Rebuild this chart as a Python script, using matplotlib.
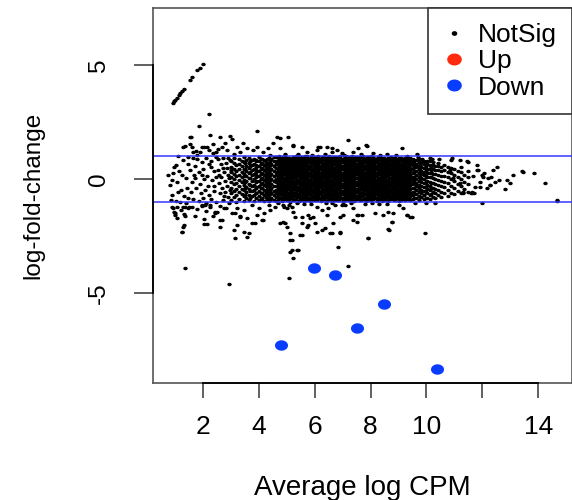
import numpy as np
import matplotlib
matplotlib.use("Agg")
import matplotlib.pyplot as plt
from matplotlib.path import Path
from matplotlib.lines import Line2D

# ---------------- data ----------------
down_x = [5.99, 6.73, 8.49, 7.50, 4.79, 10.37]
down_y = [-3.90, -4.19, -5.46, -6.53, -7.26, -8.32]
up_x = []
up_y = []

threshold_lines = [1.0, -1.0]
x_ticks = [2, 4, 6, 8, 10, 12, 14]
x_tick_labels = ["2", "4", "6", "8", "10", "", "14"]
y_ticks = [-5, 0, 5]
y_tick_labels = ["-5", "0", "5"]
legend_labels = ["NotSig", "Up", "Down"]

# diagonal streak of points in the upper left
diag_pts = [(0.92, 3.32), (0.97, 3.42), (1.01, 3.49), (1.07, 3.58), (1.13, 3.68),
            (1.19, 3.79), (1.25, 3.87), (1.31, 3.95), (1.52, 4.37), (1.61, 4.49),
            (1.79, 4.78), (1.88, 4.88), (2.00, 5.07)]

# scattered points above the +1 line
upper_pts = [(2.23, 2.85), (1.87, 2.34), (3.95, 2.12), (1.57, 1.87), (1.36, 1.47),
             (2.25, 1.94), (2.61, 1.87), (2.97, 1.90), (3.03, 1.75), (2.13, 1.43),
             (1.95, 1.43), (2.37, 1.55), (2.67, 1.43), (2.87, 1.28), (3.21, 1.43),
             (3.44, 1.58), (3.56, 1.36), (4.64, 1.84), (5.05, 1.84), (3.92, 1.43),
             (4.34, 1.36), (4.52, 1.58), (5.23, 1.47), (5.53, 1.43), (6.19, 1.43),
             (6.43, 1.43), (7.20, 1.72), (7.56, 1.36), (7.86, 1.46), (9.11, 1.36),
             (6.96, 1.14), (1.65, 1.21), (1.47, 0.99), (1.30, 1.43), (1.53, 1.87),
             (1.12, 1.00), (2.79, 1.58), (2.55, 1.33), (3.32, 1.21), (3.80, 1.28),
             (4.16, 1.21), (4.76, 1.36), (5.71, 1.21), (6.07, 1.28), (6.61, 1.21),
             (6.79, 1.28), (7.38, 1.21), (8.10, 1.14), (8.58, 1.11), (9.65, 1.11),
             (10.13, 0.92), (10.90, 0.92), (11.20, 0.85), (11.50, 0.77), (4.75, 1.80),
             (5.23, 1.50), (6.13, 1.43), (6.60, 1.36), (7.84, 1.50), (9.84, 0.90),
             (10.20, 0.88), (10.88, 0.86), (11.45, 0.80), (3.10, 1.12), (4.40, 1.08),
             (5.40, 1.10), (8.90, 1.08), (2.45, 1.18), (1.80, 1.05), (5.90, 1.07),
             (6.35, 1.12), (7.05, 1.05), (7.65, 1.10), (8.35, 1.06), (9.30, 1.03),
             (4.95, 1.12), (5.65, 1.04), (8.00, 1.03), (9.70, 0.97), (10.45, 0.90)]

# scattered points below the -1 line
lower_pts = [(0.95, -1.42), (1.01, -1.56), (1.32, -1.52), (1.36, -1.61), (1.31, -2.00),
             (1.25, -2.29), (1.37, -3.90), (2.92, -4.59), (2.02, -1.94), (2.14, -1.97),
             (2.62, -2.10), (2.44, -1.49), (2.67, -1.78), (0.89, -1.20), (1.07, -1.20),
             (1.37, -1.20), (1.49, -1.20), (1.96, -1.13), (2.08, -1.13), (2.26, -1.13),
             (2.50, -1.42), (2.74, -1.27), (3.16, -1.49), (3.34, -1.61), (3.22, -2.00),
             (3.10, -2.22), (3.46, -2.29), (3.64, -2.37), (3.58, -2.51), (3.16, -2.58),
             (3.75, -1.93), (3.87, -1.93), (4.11, -1.78), (4.17, -1.49), (4.41, -1.34),
             (4.77, -1.93), (3.22, -1.27), (3.46, -1.34), (3.75, -1.13), (3.99, -1.27),
             (4.35, -1.13), (4.59, -1.20), (4.89, -1.20), (5.07, -1.13), (5.13, -2.66),
             (5.13, -3.17), (2.61, -1.78), (3.03, -1.49), (3.32, -1.64), (3.56, -1.71),
             (3.92, -1.56), (4.16, -1.78),
             (4.88, -1.13), (5.00, -1.27), (5.18, -1.20), (5.23, -1.42), (5.29, -1.64),
             (4.94, -1.93), (5.00, -2.08), (5.53, -1.64), (5.77, -1.56), (5.83, -1.71),
             (5.53, -1.93), (5.77, -2.00), (6.01, -1.93), (6.07, -1.20), (6.25, -1.34),
             (6.49, -1.27), (6.73, -1.13), (6.97, -1.13), (7.08, -1.13), (7.02, -1.56),
             (6.91, -1.64), (6.67, -1.93), (7.38, -1.27), (7.50, -1.56), (7.68, -1.56),
             (7.50, -1.86), (8.46, -1.56), (8.63, -1.42), (8.76, -1.86), (9.17, -1.27),
             (9.29, -1.56), (9.41, -1.64), (6.37, -2.15), (6.07, -2.29), (6.61, -2.37),
             (6.91, -2.29), (5.18, -2.66), (5.53, -2.44), (5.18, -3.10), (5.41, -3.10),
             (5.23, -3.46), (6.84, -2.98), (7.20, -3.78), (7.92, -2.56), (8.63, -2.19),
             (5.09, -4.34), (9.95, -2.34), (7.38, -1.78), (7.56, -1.56), (8.16, -1.49),
             (8.75, -1.85), (8.81, -1.49), (9.29, -1.56), (7.92, -2.58), (8.64, -2.22),
             (10.00, -1.06), (10.30, -1.06), (11.98, -1.06), (9.47, -1.64), (5.95, -1.64),
             (6.43, -1.56), (6.90, -2.36), (6.55, -2.36), (6.25, -2.22), (5.71, -2.07),
             (5.47, -2.44), (5.35, -3.09), (5.11, -2.37), (4.88, -1.85), (7.02, -1.07),
             (7.80, -1.10), (8.30, -1.08), (9.00, -1.12), (5.60, -1.10), (6.40, -1.05),
             (1.20, -1.35), (1.70, -1.60), (2.05, -1.75), (2.35, -1.62), (2.62, -1.15),
             (2.82, -1.25), (2.93, -1.02), (5.35, -1.05), (5.85, -1.08), (6.60, -1.04),
             (7.30, -1.03), (8.05, -1.05), (8.60, -1.10), (9.60, -1.02), (4.70, -1.05)]

# low-density points on the left of the cloud
left_pts = [(0.76, 0.19), (0.82, -0.25), (0.94, 0.26), (1.06, -0.10), (0.88, -0.69),
            (0.94, -1.27), (1.00, -1.49), (1.06, -1.71), (1.30, -1.20), (1.48, -1.27),
            (1.27, -2.07), (1.24, -2.29), (0.98, 0.52), (1.15, 0.35), (1.22, -0.45),
            (1.40, 0.05), (1.33, -0.72), (1.02, -0.95), (1.18, -0.98), (0.90, -0.05),
            (1.45, 0.68), (1.28, 0.85), (1.10, -0.55), (1.44, -0.40), (1.38, -1.05),
            (0.85, -0.92), (1.25, 0.20), (1.05, 0.62), (1.48, -0.80),
            (1.52, 1.55), (1.62, 1.40), (1.75, 1.25), (1.90, 1.20), (2.05, 1.42),
            (2.20, 1.30), (2.35, 1.15), (1.65, 0.95), (1.80, 0.88), (1.95, 0.75),
            (2.10, 0.92), (2.30, 0.80), (2.45, 0.98), (1.55, 0.40), (1.70, 0.60),
            (1.85, 0.30), (2.00, 0.45), (2.15, 0.15), (2.28, 0.55), (2.40, 0.35),
            (1.60, -0.10), (1.72, 0.05), (1.88, -0.20), (2.02, 0.02), (2.18, -0.30),
            (2.33, -0.05), (2.48, 0.10), (1.58, -0.55), (1.76, -0.40), (1.92, -0.62),
            (2.08, -0.48), (2.22, -0.70), (2.38, -0.52), (1.66, -0.85), (1.84, -0.95),
            (2.00, -0.80), (2.12, -1.02), (2.30, -0.88), (2.45, -0.98), (1.62, -1.22),
            (1.78, -1.30), (1.96, -1.15), (2.10, -1.38), (2.26, -1.20), (2.42, -1.45),
            (1.95, 0.20), (2.40, -0.28), (1.68, 0.20), (2.22, 0.68),
            (2.52, 0.88), (2.55, 0.42), (2.58, -0.15), (2.60, -0.62), (2.63, 0.65),
            (2.66, 0.12), (2.68, -0.38), (2.71, -0.90), (2.73, 0.95), (2.76, 0.30),
            (2.78, -0.08), (2.80, -0.55), (2.83, 0.72), (2.85, 0.50), (2.87, -0.28),
            (2.89, -0.78), (2.91, 0.20), (2.95, 0.85), (2.97, -0.45), (2.99, 0.40),
            (2.70, 0.48), (2.57, 0.20), (2.94, 0.05), (2.75, -0.72), (2.88, 0.92)]

# sparse points on the right of the cloud
right_pts = [(11.68, 0.15), (11.75, -0.32), (11.85, 0.42), (11.92, -0.10), (12.05, 0.28),
             (12.15, -0.40), (12.30, 0.10), (11.80, 0.62), (12.45, -0.12), (11.70, -0.62),
             (12.51, 0.55), (12.39, 0.41), (13.47, 0.34), (13.41, 0.38), (13.83, 0.26),
             (14.24, -0.18), (14.66, -0.91), (12.87, -0.03), (12.99, -0.15), (12.81, -0.42),
             (11.62, -0.61), (12.04, 0.12), (12.21, 0.04), (12.27, -0.25), (11.80, 0.41),
             (11.98, 0.19), (12.28, -0.25), (11.92, -0.32), (11.62, -0.54), (11.32, -0.54),
             (11.20, -0.18), (10.96, 0.04), (10.84, 0.41), (11.32, -0.61), (11.61, -0.61),
             (14.66, -0.94), (12.60, -0.05), (13.10, 0.20)]

# dense core, one list of y values per x column
core_col_x = [3.02, 3.11, 3.19, 3.30, 3.38, 3.47, 3.55, 3.66, 3.74, 3.83, 3.91, 4.02,
              4.10, 4.19, 4.28, 4.37, 4.45, 4.53,
              4.62, 4.72, 4.82, 4.92, 5.02, 5.12, 5.22, 5.32, 5.42, 5.52, 5.62, 5.72,
              5.82, 5.92, 6.02, 6.12, 6.22, 6.32, 6.42, 6.52, 6.62, 6.72, 6.82, 6.92,
              7.02, 7.12, 7.22, 7.32, 7.42, 7.52, 7.62, 7.72, 7.82, 7.92, 8.02, 8.12,
              8.22, 8.32, 8.42, 8.52, 8.62, 8.72, 8.82, 8.92, 9.02, 9.12, 9.22, 9.32,
              9.42,
              9.52, 9.62, 9.72, 9.82, 9.92, 10.02, 10.12, 10.22, 10.32, 10.42, 10.52,
              10.64, 10.76, 10.88, 11.00, 11.12, 11.24, 11.36, 11.48]
core_col_y = [
    [-0.92, -0.61, -0.38, -0.12, 0.08, 0.31, 0.55, 0.82],
    [-0.78, -0.50, -0.22, 0.02, 0.24, 0.47, 0.71, 0.95],
    [-0.98, -0.70, -0.41, -0.18, 0.15, 0.38, 0.62],
    [-0.85, -0.57, -0.30, -0.05, 0.19, 0.44, 0.68, 0.90],
    [-0.66, -0.44, -0.14, 0.11, 0.33, 0.59, 0.80],
    [-0.94, -0.72, -0.48, -0.25, -0.02, 0.22, 0.46, 0.74, 0.97],
    [-0.81, -0.55, -0.33, -0.09, 0.14, 0.37, 0.58, 0.85],
    [-0.90, -0.68, -0.42, -0.20, 0.04, 0.27, 0.50, 0.72, 0.92],
    [-0.75, -0.52, -0.28, -0.06, 0.18, 0.41, 0.64, 0.86],
    [-0.96, -0.70, -0.46, -0.23, 0.00, 0.23, 0.47, 0.69, 0.90],
    [-0.83, -0.60, -0.37, -0.13, 0.10, 0.33, 0.55, 0.79],
    [-0.92, -0.74, -0.52, -0.30, -0.09, 0.13, 0.35, 0.57, 0.78, 0.96],
    [-0.80, -0.58, -0.38, -0.16, 0.05, 0.26, 0.48, 0.70, 0.88],
    [-0.93, -0.70, -0.47, -0.25, -0.04, 0.18, 0.40, 0.61, 0.83],
    [-0.86, -0.64, -0.42, -0.20, 0.00, 0.21, 0.43, 0.66, 0.87],
    [-0.95, -0.76, -0.55, -0.33, -0.12, 0.09, 0.30, 0.52, 0.73, 0.93],
    [-0.84, -0.62, -0.40, -0.19, 0.03, 0.24, 0.45, 0.67, 0.88],
    [-0.91, -0.71, -0.50, -0.28, -0.07, 0.15, 0.36, 0.58, 0.79, 0.97],
    [-0.93, -0.76, -0.60, -0.45, -0.28, -0.13, 0.03, 0.18, 0.34, 0.49, 0.65, 0.80, 0.97],
    [-0.84, -0.69, -0.52, -0.36, -0.21, -0.05, 0.10, 0.26, 0.42, 0.57, 0.72, 0.88, 1.04],
    [-0.97, -0.80, -0.63, -0.47, -0.31, -0.16, 0.00, 0.15, 0.31, 0.47, 0.62, 0.78, 0.93],
    [-0.87, -0.71, -0.55, -0.39, -0.24, -0.08, 0.07, 0.23, 0.39, 0.54, 0.70, 0.85, 1.01],
    [-0.92, -0.77, -0.61, -0.44, -0.29, -0.13, 0.02, 0.18, 0.33, 0.49, 0.64, 0.80, 0.95],
    [-0.99, -0.83, -0.68, -0.52, -0.37, -0.21, -0.06, 0.10, 0.25, 0.41, 0.56, 0.72, 0.87],
    [-0.90, -0.75, -0.59, -0.43, -0.28, -0.12, 0.04, 0.19, 0.35, 0.50, 0.66, 0.81, 0.98],
    [-0.85, -0.69, -0.54, -0.38, -0.22, -0.07, 0.09, 0.24, 0.40, 0.55, 0.71, 0.86, 1.03],
    [-0.95, -0.79, -0.63, -0.48, -0.32, -0.16, -0.01, 0.15, 0.30, 0.46, 0.61, 0.77, 0.92],
    [-0.88, -0.72, -0.56, -0.41, -0.25, -0.10, 0.06, 0.21, 0.37, 0.52, 0.68, 0.83, 0.99],
    [-0.93, -0.77, -0.61, -0.46, -0.30, -0.14, 0.01, 0.17, 0.32, 0.48, 0.63, 0.79, 0.95],
    [-0.86, -0.70, -0.54, -0.39, -0.23, -0.08, 0.08, 0.23, 0.39, 0.54, 0.70, 0.85, 1.02],
    [-0.96, -0.80, -0.64, -0.49, -0.33, -0.17, -0.02, 0.14, 0.29, 0.45, 0.60, 0.76, 0.91],
    [-0.89, -0.73, -0.57, -0.42, -0.26, -0.11, 0.05, 0.20, 0.36, 0.51, 0.67, 0.82, 0.98],
    [-0.92, -0.76, -0.60, -0.45, -0.29, -0.13, 0.02, 0.18, 0.33, 0.49, 0.64, 0.80, 0.96],
    [-0.84, -0.68, -0.53, -0.37, -0.21, -0.06, 0.10, 0.25, 0.41, 0.56, 0.72, 0.87, 1.03],
    [-0.97, -0.81, -0.65, -0.50, -0.34, -0.18, -0.03, 0.13, 0.28, 0.44, 0.59, 0.75, 0.90],
    [-0.88, -0.72, -0.57, -0.41, -0.25, -0.10, 0.06, 0.21, 0.37, 0.52, 0.68, 0.83, 0.99],
    [-0.93, -0.77, -0.62, -0.46, -0.30, -0.15, 0.01, 0.16, 0.32, 0.47, 0.63, 0.78, 0.94],
    [-0.86, -0.70, -0.55, -0.39, -0.23, -0.08, 0.08, 0.23, 0.39, 0.54, 0.70, 0.85, 1.01],
    [-0.95, -0.79, -0.63, -0.48, -0.32, -0.16, -0.01, 0.15, 0.30, 0.46, 0.61, 0.77, 0.93],
    [-0.89, -0.73, -0.58, -0.42, -0.26, -0.11, 0.05, 0.20, 0.36, 0.51, 0.67, 0.82, 0.97],
    [-0.91, -0.75, -0.60, -0.44, -0.28, -0.13, 0.03, 0.18, 0.34, 0.49, 0.65, 0.80, 0.96],
    [-0.84, -0.68, -0.53, -0.37, -0.21, -0.06, 0.10, 0.25, 0.41, 0.56, 0.72, 0.87, 1.02],
    [-0.97, -0.81, -0.66, -0.50, -0.34, -0.19, -0.03, 0.12, 0.28, 0.43, 0.59, 0.74, 0.90],
    [-0.87, -0.71, -0.56, -0.40, -0.24, -0.09, 0.07, 0.22, 0.38, 0.53, 0.69, 0.84, 1.00],
    [-0.92, -0.76, -0.61, -0.45, -0.29, -0.14, 0.02, 0.17, 0.33, 0.48, 0.64, 0.79, 0.95],
    [-0.85, -0.69, -0.54, -0.38, -0.22, -0.07, 0.09, 0.24, 0.40, 0.55, 0.71, 0.86, 1.02],
    [-0.94, -0.78, -0.63, -0.47, -0.31, -0.16, 0.00, 0.15, 0.31, 0.46, 0.62, 0.77, 0.92],
    [-0.88, -0.72, -0.57, -0.41, -0.25, -0.10, 0.06, 0.21, 0.37, 0.52, 0.68, 0.83, 0.98],
    [-0.91, -0.75, -0.59, -0.44, -0.28, -0.12, 0.03, 0.19, 0.34, 0.50, 0.65, 0.81, 0.97],
    [-0.86, -0.70, -0.55, -0.39, -0.23, -0.08, 0.08, 0.23, 0.39, 0.54, 0.70, 0.85, 1.00],
    [-0.95, -0.80, -0.64, -0.48, -0.33, -0.17, -0.02, 0.14, 0.29, 0.45, 0.60, 0.76, 0.91],
    [-0.89, -0.73, -0.58, -0.42, -0.26, -0.11, 0.05, 0.20, 0.36, 0.51, 0.67, 0.82, 0.96],
    [-0.92, -0.77, -0.61, -0.45, -0.30, -0.14, 0.01, 0.17, 0.32, 0.48, 0.63, 0.79, 0.94],
    [-0.84, -0.68, -0.53, -0.37, -0.21, -0.06, 0.10, 0.25, 0.41, 0.56, 0.72, 0.87],
    [-0.96, -0.80, -0.65, -0.49, -0.33, -0.18, -0.02, 0.13, 0.29, 0.44, 0.60, 0.75, 0.91],
    [-0.87, -0.71, -0.56, -0.40, -0.24, -0.09, 0.07, 0.22, 0.38, 0.53, 0.69, 0.84, 0.98],
    [-0.93, -0.77, -0.62, -0.46, -0.30, -0.15, 0.01, 0.16, 0.32, 0.47, 0.63, 0.78, 0.93],
    [-0.85, -0.70, -0.54, -0.38, -0.23, -0.07, 0.08, 0.24, 0.39, 0.55, 0.70, 0.86],
    [-0.95, -0.79, -0.63, -0.48, -0.32, -0.16, -0.01, 0.15, 0.30, 0.46, 0.61, 0.77, 0.92],
    [-0.88, -0.72, -0.57, -0.41, -0.25, -0.10, 0.06, 0.21, 0.37, 0.52, 0.68, 0.83, 0.97],
    [-0.91, -0.76, -0.60, -0.44, -0.29, -0.13, 0.02, 0.18, 0.33, 0.49, 0.64, 0.80, 0.94],
    [-0.84, -0.69, -0.53, -0.37, -0.22, -0.06, 0.09, 0.25, 0.40, 0.56, 0.71, 0.86],
    [-0.94, -0.78, -0.62, -0.47, -0.31, -0.15, 0.00, 0.16, 0.31, 0.47, 0.62, 0.78, 0.92],
    [-0.87, -0.71, -0.56, -0.40, -0.24, -0.09, 0.07, 0.22, 0.38, 0.53, 0.69, 0.84],
    [-0.92, -0.76, -0.61, -0.45, -0.29, -0.14, 0.02, 0.17, 0.33, 0.48, 0.64, 0.79, 0.93],
    [-0.85, -0.70, -0.54, -0.38, -0.23, -0.07, 0.08, 0.24, 0.39, 0.55, 0.70, 0.86],
    [-0.90, -0.74, -0.59, -0.43, -0.27, -0.12, 0.04, 0.19, 0.35, 0.50, 0.66, 0.81, 0.95],
    [-0.88, -0.71, -0.55, -0.38, -0.22, -0.05, 0.11, 0.28, 0.44, 0.61, 0.77, 0.90],
    [-0.82, -0.65, -0.48, -0.31, -0.15, 0.02, 0.19, 0.35, 0.52, 0.68, 0.84],
    [-0.91, -0.74, -0.57, -0.40, -0.24, -0.07, 0.10, 0.26, 0.43, 0.60, 0.76, 0.88],
    [-0.79, -0.62, -0.45, -0.28, -0.12, 0.05, 0.22, 0.38, 0.55, 0.71, 0.86],
    [-0.87, -0.70, -0.52, -0.35, -0.18, 0.00, 0.17, 0.34, 0.51, 0.68, 0.82],
    [-0.80, -0.62, -0.43, -0.25, -0.07, 0.11, 0.29, 0.47, 0.65, 0.80],
    [-0.86, -0.67, -0.48, -0.29, -0.10, 0.09, 0.27, 0.46, 0.64, 0.79],
    [-0.76, -0.56, -0.36, -0.16, 0.04, 0.24, 0.44, 0.62, 0.75],
    [-0.83, -0.62, -0.41, -0.20, 0.01, 0.22, 0.42, 0.60],
    [-0.70, -0.48, -0.26, -0.04, 0.18, 0.39, 0.58, 0.72],
    [-0.78, -0.55, -0.31, -0.08, 0.15, 0.37, 0.55],
    [-0.62, -0.35, -0.10, 0.14, 0.40, 0.62],
    [-0.72, -0.45, -0.18, 0.08, 0.33, 0.55],
    [-0.58, -0.28, 0.00, 0.27, 0.50],
    [-0.66, -0.38, -0.08, 0.20, 0.44],
    [-0.50, -0.20, 0.10, 0.36],
    [-0.60, -0.30, 0.02, 0.30, 0.52],
    [-0.44, -0.12, 0.20],
    [-0.55, -0.22, 0.08, 0.38],
]

# the densest part of the cloud holds further points between the columns above
dense_col_x = [3.52, 3.70, 3.88, 4.06, 4.24, 4.41,
               4.67, 4.77, 4.87, 4.97, 5.07, 5.17, 5.27, 5.37, 5.47, 5.57, 5.67, 5.77,
               5.87, 5.97, 6.07, 6.17, 6.27, 6.37, 6.47, 6.57, 6.67, 6.77, 6.87, 6.97,
               7.07, 7.17, 7.27, 7.37, 7.47, 7.57, 7.67, 7.77, 7.87, 7.97, 8.07, 8.17,
               8.27, 8.37, 8.47, 8.57, 8.67, 8.77, 8.87, 8.97, 9.07, 9.17, 9.27, 9.37,
               9.57, 9.77, 9.97, 10.17]
dense_col_y = [
    [-0.70, -0.40, -0.12, 0.16, 0.44, 0.70],
    [-0.82, -0.50, -0.24, 0.04, 0.30, 0.58, 0.80],
    [-0.60, -0.34, -0.08, 0.17, 0.40, 0.64, 0.84],
    [-0.86, -0.62, -0.40, -0.19, 0.02, 0.24, 0.46, 0.68, 0.90],
    [-0.76, -0.54, -0.30, -0.10, 0.11, 0.32, 0.54, 0.76],
    [-0.90, -0.66, -0.45, -0.24, -0.03, 0.19, 0.40, 0.62, 0.82],
    [-0.89, -0.73, -0.58, -0.42, -0.26, -0.11, 0.05, 0.20, 0.36, 0.51, 0.67, 0.82, 0.96],
    [-0.81, -0.65, -0.50, -0.34, -0.18, -0.03, 0.13, 0.28, 0.44, 0.59, 0.75, 0.90],
    [-0.90, -0.74, -0.57, -0.41, -0.27, -0.10, 0.05, 0.21, 0.36, 0.52, 0.67, 0.83, 0.97],
    [-0.80, -0.66, -0.49, -0.33, -0.19, -0.02, 0.12, 0.29, 0.43, 0.60, 0.74, 0.91],
    [-0.88, -0.73, -0.59, -0.41, -0.25, -0.12, 0.05, 0.19, 0.36, 0.50, 0.68, 0.81, 0.95],
    [-0.82, -0.64, -0.51, -0.35, -0.17, -0.04, 0.14, 0.27, 0.45, 0.58, 0.76, 0.89],
    [-0.90, -0.72, -0.58, -0.43, -0.26, -0.10, 0.04, 0.21, 0.35, 0.52, 0.66, 0.83, 0.98],
    [-0.79, -0.66, -0.49, -0.33, -0.18, -0.03, 0.13, 0.28, 0.44, 0.59, 0.75, 0.91],
    [-0.89, -0.74, -0.57, -0.42, -0.27, -0.11, 0.06, 0.20, 0.37, 0.51, 0.67, 0.82, 0.96],
    [-0.81, -0.65, -0.51, -0.34, -0.19, -0.02, 0.12, 0.29, 0.43, 0.60, 0.74, 0.90],
    [-0.90, -0.73, -0.58, -0.41, -0.26, -0.10, 0.05, 0.21, 0.36, 0.52, 0.68, 0.82, 0.97],
    [-0.80, -0.64, -0.50, -0.35, -0.18, -0.04, 0.13, 0.27, 0.44, 0.58, 0.75, 0.91],
    [-0.88, -0.74, -0.57, -0.42, -0.27, -0.11, 0.04, 0.20, 0.35, 0.51, 0.66, 0.83, 0.97],
    [-0.82, -0.66, -0.49, -0.33, -0.17, -0.03, 0.14, 0.28, 0.45, 0.59, 0.76, 0.89],
    [-0.89, -0.72, -0.58, -0.43, -0.26, -0.10, 0.06, 0.21, 0.37, 0.52, 0.67, 0.82, 0.96],
    [-0.81, -0.65, -0.50, -0.34, -0.19, -0.02, 0.12, 0.29, 0.43, 0.60, 0.74, 0.90],
    [-0.90, -0.73, -0.57, -0.41, -0.27, -0.11, 0.05, 0.20, 0.36, 0.51, 0.68, 0.83, 0.98],
    [-0.79, -0.65, -0.51, -0.35, -0.18, -0.04, 0.13, 0.28, 0.44, 0.58, 0.75, 0.91],
    [-0.89, -0.74, -0.58, -0.42, -0.26, -0.10, 0.04, 0.21, 0.35, 0.52, 0.66, 0.82, 0.97],
    [-0.81, -0.64, -0.49, -0.33, -0.19, -0.03, 0.14, 0.27, 0.45, 0.59, 0.76, 0.90],
    [-0.88, -0.73, -0.57, -0.43, -0.27, -0.11, 0.05, 0.21, 0.36, 0.51, 0.67, 0.83, 0.96],
    [-0.82, -0.66, -0.50, -0.34, -0.17, -0.02, 0.12, 0.28, 0.43, 0.60, 0.74, 0.89],
    [-0.90, -0.72, -0.58, -0.41, -0.26, -0.10, 0.06, 0.20, 0.37, 0.52, 0.68, 0.82, 0.97],
    [-0.80, -0.65, -0.51, -0.35, -0.19, -0.04, 0.13, 0.29, 0.44, 0.58, 0.75, 0.91],
    [-0.89, -0.74, -0.57, -0.42, -0.27, -0.11, 0.04, 0.20, 0.35, 0.51, 0.66, 0.83, 0.96],
    [-0.81, -0.64, -0.49, -0.33, -0.18, -0.02, 0.14, 0.27, 0.43, 0.59, 0.76, 0.90],
    [-0.90, -0.73, -0.58, -0.43, -0.26, -0.10, 0.05, 0.21, 0.36, 0.52, 0.67, 0.82, 0.98],
    [-0.79, -0.66, -0.50, -0.34, -0.19, -0.03, 0.12, 0.28, 0.45, 0.60, 0.74, 0.91],
    [-0.88, -0.72, -0.57, -0.41, -0.27, -0.11, 0.06, 0.21, 0.37, 0.51, 0.68, 0.83, 0.96],
    [-0.82, -0.65, -0.51, -0.35, -0.17, -0.04, 0.13, 0.29, 0.43, 0.58, 0.75, 0.89],
    [-0.89, -0.74, -0.58, -0.42, -0.26, -0.10, 0.05, 0.20, 0.36, 0.52, 0.66, 0.82, 0.97],
    [-0.81, -0.64, -0.49, -0.33, -0.19, -0.02, 0.12, 0.28, 0.44, 0.59, 0.76, 0.90],
    [-0.90, -0.73, -0.57, -0.43, -0.27, -0.11, 0.04, 0.21, 0.35, 0.51, 0.67, 0.83, 0.96],
    [-0.80, -0.66, -0.50, -0.34, -0.18, -0.03, 0.14, 0.27, 0.45, 0.60, 0.74, 0.91],
    [-0.88, -0.72, -0.58, -0.41, -0.26, -0.10, 0.06, 0.20, 0.37, 0.52, 0.68, 0.82, 0.97],
    [-0.82, -0.65, -0.51, -0.35, -0.19, -0.04, 0.13, 0.29, 0.43, 0.58, 0.75, 0.90],
    [-0.89, -0.74, -0.57, -0.42, -0.27, -0.11, 0.05, 0.21, 0.36, 0.51, 0.66, 0.83, 0.96],
    [-0.81, -0.64, -0.49, -0.33, -0.17, -0.02, 0.12, 0.28, 0.44, 0.59, 0.76, 0.89],
    [-0.90, -0.73, -0.58, -0.43, -0.26, -0.10, 0.04, 0.20, 0.35, 0.52, 0.67, 0.82, 0.95],
    [-0.79, -0.66, -0.50, -0.34, -0.19, -0.03, 0.13, 0.29, 0.45, 0.60, 0.74, 0.88],
    [-0.88, -0.72, -0.57, -0.41, -0.27, -0.11, 0.06, 0.21, 0.37, 0.51, 0.68, 0.83, 0.95],
    [-0.82, -0.65, -0.51, -0.35, -0.18, -0.04, 0.12, 0.27, 0.43, 0.58, 0.75, 0.89],
    [-0.89, -0.74, -0.58, -0.42, -0.26, -0.10, 0.05, 0.20, 0.36, 0.52, 0.66, 0.82, 0.94],
    [-0.81, -0.64, -0.49, -0.33, -0.19, -0.02, 0.14, 0.28, 0.44, 0.59, 0.76, 0.88],
    [-0.90, -0.73, -0.57, -0.43, -0.27, -0.11, 0.04, 0.21, 0.35, 0.51, 0.67, 0.83, 0.94],
    [-0.80, -0.66, -0.50, -0.34, -0.18, -0.03, 0.13, 0.29, 0.45, 0.60, 0.74, 0.88],
    [-0.88, -0.72, -0.58, -0.41, -0.26, -0.10, 0.06, 0.20, 0.37, 0.52, 0.68, 0.82, 0.93],
    [-0.82, -0.65, -0.51, -0.35, -0.19, -0.04, 0.12, 0.28, 0.43, 0.58, 0.75, 0.88],
    [-0.84, -0.58, -0.36, -0.12, 0.10, 0.34, 0.56, 0.78],
    [-0.76, -0.50, -0.28, -0.04, 0.18, 0.42, 0.64],
    [-0.82, -0.56, -0.34, -0.10, 0.14, 0.38, 0.60, 0.74],
    [-0.66, -0.40, -0.16, 0.08, 0.32, 0.52],
]

# ---------------- assemble ----------------
ns_x_list, ns_y_list = [], []
for cols_x, cols_y in ((core_col_x, core_col_y), (dense_col_x, dense_col_y)):
    for cx, ys in zip(cols_x, cols_y):
        for yv in ys:
            ns_x_list.append(cx)
            ns_y_list.append(yv)
others = diag_pts + upper_pts + lower_pts + left_pts + right_pts
ns_x = np.array(ns_x_list + [p[0] for p in others])
ns_y = np.array(ns_y_list + [p[1] for p in others])

# slightly wide ellipse marker (the reference is horizontally stretched)
t = np.linspace(0, 2 * np.pi, 48)
ell = Path(np.column_stack([1.25 * np.cos(t), np.sin(t)]), closed=True)

FONT = "Liberation Sans"
down_color = "#0a3cff"
up_color = "#ff2a10"
line_color = "#3535ff"

fig = plt.figure(figsize=(5.72, 5.0), dpi=100)
ax = fig.add_axes([152.7 / 572, (500 - 382.7) / 500, 418.8 / 572, 374.4 / 500])
ax.set_xlim(0.20, 15.19)
ax.set_ylim(-8.91, 7.49)

ax.scatter(ns_x, ns_y, s=10, marker=ell, color="black", linewidths=0, zorder=2)
ax.scatter(down_x, down_y, s=88, marker=ell, color=down_color, linewidths=0, zorder=3)
if up_x:
    ax.scatter(up_x, up_y, s=88, marker=ell, color=up_color, linewidths=0, zorder=3)
for h in threshold_lines:
    ax.axhline(h, color=line_color, lw=1.1, zorder=4)

# box (grey) and R-style axis lines (black) spanning first..last tick
for sp in ax.spines.values():
    sp.set_color("#555555")
    sp.set_linewidth(1.2)
ax.plot([x_ticks[0], x_ticks[-1]], [0, 0], transform=ax.get_xaxis_transform(),
        color="black", lw=1.3, clip_on=False, zorder=5)
ax.plot([0, 0], [y_ticks[0], y_ticks[-1]], transform=ax.get_yaxis_transform(),
        color="black", lw=1.3, clip_on=False, zorder=5)

ax.set_xticks(x_ticks)
ax.set_xticklabels(x_tick_labels, fontsize=19, family=FONT)
ax.set_yticks(y_ticks)
ax.set_yticklabels(y_tick_labels, fontsize=17.5, family=FONT, rotation=90, va="center")
ax.tick_params(axis="x", direction="out", length=10.8, width=1.2, color="#444444", pad=12.5)
ax.tick_params(axis="y", direction="out", length=14, width=1.2, color="#444444", pad=17)

ax.set_xlabel("Average log CPM", fontsize=20, family=FONT, va="center")
ax.xaxis.set_label_coords(0.5, (382.7 - 488) / 374.4)
ax.set_ylabel("log-fold-change", fontsize=17.5, family=FONT, va="center")
ax.yaxis.set_label_coords((33 - 152.7) / 418.8, 0.5)

handles = [Line2D([], [], ls="none", marker=ell, ms=3.0, color="black"),
           Line2D([], [], ls="none", marker=ell, ms=9.5, color=up_color),
           Line2D([], [], ls="none", marker=ell, ms=9.5, color=down_color)]
leg = ax.legend(handles, legend_labels, loc="upper right", borderaxespad=0,
                frameon=True, fancybox=False, framealpha=1, edgecolor="#333333",
                prop={"family": FONT, "size": 19}, borderpad=0.55,
                handlelength=0.85, handletextpad=0.5, labelspacing=0.09)
leg.get_frame().set_linewidth(1.2)
leg.set_zorder(6)

fig.savefig("out.png", dpi=100)
